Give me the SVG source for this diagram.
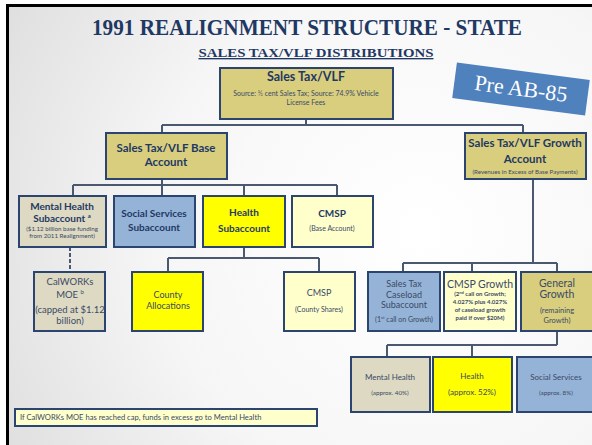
<svg xmlns="http://www.w3.org/2000/svg" width="592" height="445" viewBox="0 0 592 445">
  <defs>
    <radialGradient id="slideBg" cx="420" cy="230" r="480" gradientUnits="userSpaceOnUse">
      <stop offset="0" stop-color="#ffffff"/>
      <stop offset="0.55" stop-color="#f6f6f6"/>
      <stop offset="1" stop-color="#dedede"/>
    </radialGradient>
    <style>
      .box { stroke: #2b4570; stroke-width: 2; }
      .khaki { fill: #d8ce7e; }
      .tan { fill: #ddd9c3; }
      .blue { fill: #95b3d7; }
      .yellow { fill: #ffff00; }
      .pale { fill: #ffffcc; }
      .conn { fill: none; stroke: #4a5870; stroke-width: 2; }
      .dash { fill: none; stroke: #4a5870; stroke-width: 2; stroke-dasharray: 4 2; }
      text { font-family: Lato, "Liberation Sans", sans-serif; text-anchor: middle; }
      text.serif { font-family: "Liberation Serif", "DejaVu Serif", serif; }
      .hd { font-weight: bold; fill: #1f3864; }
      .tx { fill: #3b4a66; }
      .sm { fill: #3b4a66; }
    </style>
  </defs>

  <!-- slide frame and background -->
  <rect x="0" y="0" width="592" height="445" fill="#ffffff"/>
  <rect x="7.5" y="5.5" width="600" height="460" fill="url(#slideBg)" stroke="#000000" stroke-width="3"/>

  <!-- headings -->
  <text class="serif" x="307" y="35" font-weight="bold" font-size="24" fill="#1f3864" textLength="430" lengthAdjust="spacingAndGlyphs">1991 REALIGNMENT STRUCTURE - STATE</text>
  <text class="serif" x="316" y="57" font-weight="bold" font-size="13.5" fill="#1f3864" text-decoration="underline" textLength="235" lengthAdjust="spacingAndGlyphs">SALES TAX/VLF DISTRIBUTIONS</text>

  <!-- banner -->
  <g id="pre-ab85" transform="translate(521,89) rotate(7.5)">
    <rect x="-67" y="-18" width="134" height="36" fill="#4f81bd"/>
    <text class="serif" x="0" y="7" font-size="22" fill="#ffffff">Pre AB-85</text>
  </g>

  <!-- connectors -->
  <g id="connectors">
    <path class="conn" d="M306,119 V125 M162,125 H523 M162,125 V133 M523,125 V133"/>
    <path class="conn" d="M162,179 V185 M73,185 H337 M73,185 V196 M162,185 V196 M244,185 V196 M337,185 V196"/>
    <path class="dash" d="M70,247 V272"/>
    <path class="conn" d="M244,247 V258 M168,258 H319 M168,258 V272 M319,258 V272"/>
    <path class="conn" d="M533,179 V263 M403,263 H557 M403,263 V272 M472,263 V272 M557,263 V272"/>
    <path class="conn" d="M557,331 V345 M387,345 H557 M387,345 V357 M472,345 V357"/>
  </g>

  <!-- top level -->
  <g id="sales-tax-vlf">
    <rect class="box khaki" x="220" y="68" width="173" height="51"/>
    <text class="hd" x="306" y="81" font-size="12.5">Sales Tax/VLF</text>
    <text class="sm" x="306" y="96" font-size="7">Source: ½ cent Sales Tax; Source: 74.9% Vehicle</text>
    <text class="sm" x="306" y="105" font-size="7">License Fees</text>
  </g>

  <g id="base-account">
    <rect class="box khaki" x="106" y="133" width="121" height="46"/>
    <text class="hd" x="166" y="152" font-size="11.5">Sales Tax/VLF Base</text>
    <text class="hd" x="166" y="166" font-size="11.5">Account</text>
  </g>

  <g id="growth-account">
    <rect class="box khaki" x="465" y="133" width="121" height="46"/>
    <text class="hd" x="525" y="147" font-size="11.5">Sales Tax/VLF Growth</text>
    <text class="hd" x="525" y="163" font-size="11.5">Account</text>
    <text class="sm" x="525" y="174" font-size="6.2">(Revenues in Excess of Base Payments)</text>
  </g>

  <!-- base subaccounts -->
  <g id="mh-subaccount">
    <rect class="box tan" x="19" y="196" width="87" height="51"/>
    <text class="hd" x="62" y="210" font-size="10">Mental Health</text>
    <text class="hd" x="62" y="222" font-size="10">Subaccount <tspan font-size="6" dy="-4">a</tspan></text>
    <text class="sm" x="62" y="231" font-size="6.2">($1.12 billion base funding</text>
    <text class="sm" x="62" y="238" font-size="6.2">from 2011 Realignment)</text>
  </g>

  <g id="ss-subaccount">
    <rect class="box blue" x="114" y="196" width="81" height="51"/>
    <text class="hd" x="154" y="217" font-size="10">Social Services</text>
    <text class="hd" x="154" y="231" font-size="10">Subaccount</text>
  </g>

  <g id="health-subaccount">
    <rect class="box yellow" x="203" y="196" width="82" height="51"/>
    <text class="hd" x="244" y="216" font-size="10">Health</text>
    <text class="hd" x="244" y="232" font-size="10">Subaccount</text>
  </g>

  <g id="cmsp-base">
    <rect class="box pale" x="292" y="196" width="81" height="51"/>
    <text class="hd" x="332" y="217" font-size="10">CMSP</text>
    <text class="sm" x="332" y="231" font-size="7">(Base Account)</text>
  </g>

  <!-- base third level -->
  <g id="calworks-moe">
    <rect class="box tan" x="34" y="272" width="71" height="59"/>
    <text class="tx" x="70" y="285" font-size="9.5">CalWORKs</text>
    <text class="tx" x="70" y="298" font-size="9.5">MOE <tspan font-size="6" dy="-4">b</tspan></text>
    <text class="tx" x="70" y="313" font-size="9.5">(capped at $1.12</text>
    <text class="tx" x="70" y="324" font-size="9.5">billion)</text>
  </g>

  <g id="county-allocations">
    <rect class="box yellow" x="132" y="272" width="71" height="59"/>
    <text class="tx" x="168" y="298" font-size="9">County</text>
    <text class="tx" x="168" y="309" font-size="9">Allocations</text>
  </g>

  <g id="cmsp-county">
    <rect class="box pale" x="284" y="272" width="71" height="59"/>
    <text class="tx" x="319" y="296" font-size="9">CMSP</text>
    <text class="sm" x="319" y="312" font-size="7">(County Shares)</text>
  </g>

  <!-- growth third level -->
  <g id="caseload-subaccount">
    <rect class="box blue" x="368" y="272" width="72" height="59"/>
    <text class="tx" x="404" y="287" font-size="9">Sales Tax</text>
    <text class="tx" x="404" y="298" font-size="9">Caseload</text>
    <text class="tx" x="404" y="308" font-size="9">Subaccount</text>
    <text class="sm" x="404" y="322" font-size="7">(1<tspan font-size="4.5" dy="-3">st</tspan><tspan dy="3"> call on Growth)</tspan></text>
  </g>

  <g id="cmsp-growth">
    <rect class="box pale" x="444" y="272" width="72" height="59"/>
    <text class="tx" x="480" y="288" font-size="10.5">CMSP Growth</text>
    <text class="sm" x="480" y="296" font-size="6" font-weight="bold">(2<tspan font-size="4" dy="-2.5">nd</tspan><tspan dy="2.5"> call on Growth;</tspan></text>
    <text class="sm" x="480" y="304" font-size="6" font-weight="bold">4.027% plus 4.027%</text>
    <text class="sm" x="480" y="312" font-size="6" font-weight="bold">of caseload growth</text>
    <text class="sm" x="480" y="320" font-size="6" font-weight="bold">paid if over $20M)</text>
  </g>

  <g id="general-growth">
    <rect class="box khaki" x="521" y="272" width="75" height="59"/>
    <text class="tx" x="557" y="287" font-size="10.5">General</text>
    <text class="tx" x="557" y="298" font-size="10.5">Growth</text>
    <text class="sm" x="557" y="313" font-size="7.5">(remaining</text>
    <text class="sm" x="557" y="323" font-size="7.5">Growth)</text>
  </g>

  <!-- growth shares -->
  <g id="mh-share">
    <rect class="box tan" x="351" y="357" width="79" height="55"/>
    <text class="tx" x="390" y="380" font-size="8">Mental Health</text>
    <text class="sm" x="390" y="395" font-size="6.3">(approx. 40%)</text>
  </g>

  <g id="health-share">
    <rect class="box yellow" x="433" y="357" width="79" height="55"/>
    <text class="tx" x="472" y="379" font-size="8">Health</text>
    <text class="tx" x="472" y="395" font-size="8">(approx. 52%)</text>
  </g>

  <g id="ss-share">
    <rect class="box blue" x="517" y="357" width="80" height="55"/>
    <text class="tx" x="556" y="380" font-size="8">Social Services</text>
    <text class="sm" x="556" y="395" font-size="6.3">(approx. 8%)</text>
  </g>

  <!-- footnote -->
  <g id="footnote">
    <rect class="box pale" x="15" y="409" width="302" height="17" stroke-width="1.5"/>
    <text class="sm" x="20" y="420" font-size="7.6" style="text-anchor:start">If CalWORKs MOE has reached cap, funds in excess go to Mental Health</text>
  </g>
</svg>
